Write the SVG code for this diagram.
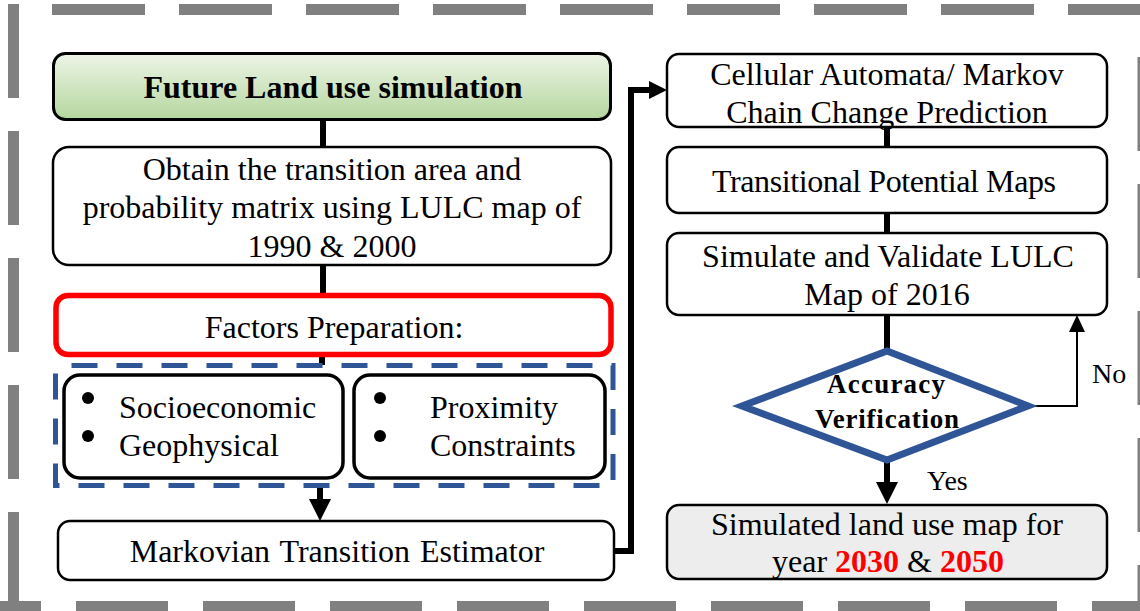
<svg xmlns="http://www.w3.org/2000/svg" width="1140" height="611" viewBox="0 0 1140 611">
  <defs>
    <linearGradient id="greenFill" x1="0" y1="0" x2="0" y2="1">
      <stop offset="0" stop-color="#EDF5E7"/>
      <stop offset="1" stop-color="#B5D69E"/>
    </linearGradient>
    <marker id="arrowLg" viewBox="0 0 22 22" refX="0" refY="11" markerWidth="22" markerHeight="22" markerUnits="userSpaceOnUse" orient="auto">
      <path d="M0,0 L22,11 L0,22 Z" fill="#000"/>
    </marker>
    <marker id="arrowMd" viewBox="0 0 18 18" refX="0" refY="9" markerWidth="18" markerHeight="18" markerUnits="userSpaceOnUse" orient="auto">
      <path d="M0,0 L18,9 L0,18 Z" fill="#000"/>
    </marker>
    <marker id="arrowSm" viewBox="0 0 17 16" refX="0" refY="8" markerWidth="17" markerHeight="16" markerUnits="userSpaceOnUse" orient="auto">
      <path d="M0,0 L17,8 L0,16 Z" fill="#000"/>
    </marker>
  </defs>
  <style>
    text { font-family: "Liberation Serif", "Times New Roman", serif; font-size: 32px; fill: #000; }
    .c { text-anchor: middle; }
    .b { font-weight: bold; }
    .red { fill: #FF0000; font-weight: bold; }
    .box { fill: #FFFFFF; stroke: #000; stroke-width: 2.5; }
    .inner { fill: #FFFFFF; stroke: #000; stroke-width: 3.5; }
    .frame { fill: none; stroke: #808080; stroke-width: 11; }
    .thick { fill: none; stroke: #000; stroke-width: 6; }
    .thin { fill: none; stroke: #000; stroke-width: 2; }
    .blue { stroke: #2F5597; }
  </style>

  <!-- outer dashed frame, one line per edge -->
  <g id="frame">
    <path class="frame" d="M52 9.5 H1150" stroke-dasharray="93 34"/>
    <path class="frame" d="M13.5 4 V612" stroke-dasharray="94 33"/>
    <path class="frame" d="M0 606.5 H1150" stroke-dasharray="92 35" stroke-dashoffset="51"/>
    <path class="frame" d="M1143 57 V612" stroke-dasharray="94 33"/>
  </g>

  <!-- connectors -->
  <g id="connectors">
    <path class="thick" d="M323 121 V147"/>
    <path class="thick" d="M323 265 V294"/>
    <path class="thick" d="M322 357 V365"/>
    <path class="thick" d="M320 488 V499" marker-end="url(#arrowLg)"/>
    <path class="thick" d="M614 551 H631 V90 H649" marker-end="url(#arrowMd)"/>
    <path class="thick" d="M887 127 V147"/>
    <path class="thick" d="M887 213 V233"/>
    <path class="thick" d="M887 315 V350"/>
    <path class="thick" d="M887 460 V482" marker-end="url(#arrowLg)"/>
    <path class="thin" d="M1030 406 H1077 V332" marker-end="url(#arrowSm)"/>
    <text x="1092" y="383" style="font-size:28px">No</text>
    <text x="927" y="490" style="font-size:28px">Yes</text>
  </g>

  <!-- left column -->
  <g id="node-future">
    <rect x="53.5" y="53.5" width="557" height="66" rx="12" fill="url(#greenFill)" stroke="#000" stroke-width="3"/>
    <text class="c b" x="333" y="98">Future Land use simulation</text>
  </g>

  <g id="node-transition">
    <rect class="box" x="53" y="147" width="558" height="118" rx="16"/>
    <text class="c" x="332" y="180">Obtain the transition area and</text>
    <text class="c" x="332" y="218">probability matrix using LULC map of</text>
    <text class="c" x="332" y="257">1990 &amp; 2000</text>
  </g>

  <g id="node-factors">
    <rect x="56" y="295.5" width="555" height="59" rx="12" fill="#FFFFFF" stroke="#FF0000" stroke-width="5.5"/>
    <text class="c" x="334" y="338">Factors Preparation:</text>
  </g>

  <g id="node-factor-group">
    <rect x="55.5" y="365.5" width="557.5" height="120" fill="none" stroke="#2F5597" stroke-width="5" stroke-dasharray="26 19" stroke-dashoffset="-16"/>
    <g id="node-socio">
      <rect class="inner" x="64" y="375" width="279" height="103" rx="16"/>
      <circle cx="88" cy="398" r="6"/>
      <circle cx="88" cy="436" r="6"/>
      <text x="119" y="418">Socioeconomic</text>
      <text x="119" y="456">Geophysical</text>
    </g>
    <g id="node-proximity">
      <rect class="inner" x="354" y="375" width="251" height="103" rx="16"/>
      <circle cx="380" cy="398" r="6"/>
      <circle cx="380" cy="436" r="6"/>
      <text x="430" y="418">Proximity</text>
      <text x="430" y="456">Constraints</text>
    </g>
  </g>

  <g id="node-markovian">
    <rect class="box" x="58" y="521" width="556" height="59" rx="12"/>
    <text class="c" x="337" y="562" word-spacing="2">Markovian Transition Estimator</text>
  </g>

  <!-- right column -->
  <g id="node-ca-markov">
    <rect class="box" x="667" y="54" width="440" height="73" rx="12"/>
    <text class="c" x="887" y="85">Cellular Automata/ Markov</text>
    <text class="c" x="887" y="123">Chain Change Prediction</text>
  </g>

  <g id="node-potential">
    <rect class="box" x="667" y="147" width="440" height="66" rx="12"/>
    <text class="c" x="884" y="192" textLength="344" lengthAdjust="spacing">Transitional Potential Maps</text>
  </g>

  <g id="node-simulate">
    <rect class="box" x="667" y="233" width="440" height="82" rx="12"/>
    <text class="c" x="888" y="267">Simulate and Validate LULC</text>
    <text class="c" x="887" y="305">Map of 2016</text>
  </g>

  <g id="node-accuracy">
    <polygon points="887,351 1028,406 887,460 742,406" fill="#FFFFFF" stroke="#2F5597" stroke-width="7" stroke-linejoin="miter"/>
    <text class="c b" x="886" y="393" style="font-size:27px" textLength="118" lengthAdjust="spacing">Accuracy</text>
    <text class="c b" x="887" y="428" style="font-size:27px" textLength="144" lengthAdjust="spacing">Verification</text>
  </g>

  <g id="node-result">
    <rect x="667" y="505" width="440" height="74" rx="12" fill="#EDEDED" stroke="#000" stroke-width="2.5"/>
    <text class="c" x="887" y="535">Simulated land use map for</text>
    <text class="c" x="888" y="572">year <tspan class="red">2030</tspan> &amp; <tspan class="red">2050</tspan></text>
  </g>
</svg>
